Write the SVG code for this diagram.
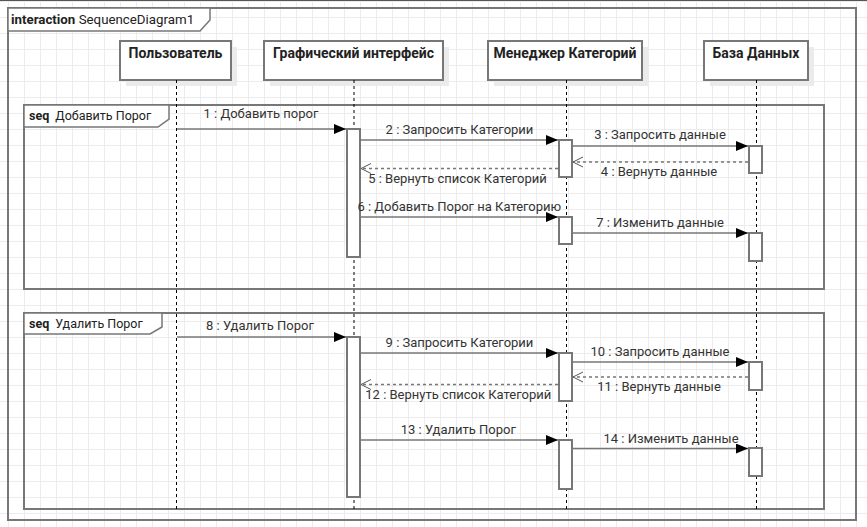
<svg xmlns="http://www.w3.org/2000/svg" width="867" height="527" viewBox="0 0 867 527">
<defs>
<pattern id="grid" x="8" y="1" width="16" height="16" patternUnits="userSpaceOnUse">
<path d="M0 0.5 H16 M0.5 0 V16" fill="none" stroke="#ececec" stroke-width="1"/>
</pattern>
<marker id="filled" markerWidth="12" markerHeight="10" refX="12" refY="5" orient="auto" markerUnits="userSpaceOnUse">
<path d="M0 0 L12 5 L0 10 Z" fill="#000"/>
</marker>
<marker id="open" markerWidth="12" markerHeight="12" refX="11" refY="6" orient="auto" markerUnits="userSpaceOnUse">
<path d="M1 1 L11 6 L1 11" fill="none" stroke="#555" stroke-width="1"/>
</marker>
</defs>
<style>
.frame{fill:none;stroke:#777;stroke-width:2}
.tab{fill:#fff;stroke:#777;stroke-width:1.5}
.head{fill:#fff;stroke:#777;stroke-width:2}
.shadow{fill:#ebebeb}
.life{stroke:#000;stroke-width:1;stroke-dasharray:3,3}
.act{fill:#fff;stroke:#777;stroke-width:2}
.msg{stroke:#777;stroke-width:1.5;fill:none}
.ret{stroke:#777;stroke-width:1.5;stroke-dasharray:3,3;fill:none}
text{font-family:Roboto,"Liberation Sans",sans-serif}
.lbl{font-size:13px;fill:#333;text-anchor:middle}
.hd{font-size:14px;font-weight:bold;fill:#222;text-anchor:middle}
.ft{fill:#222}
.b{font-weight:bold}
</style>
<rect width="867" height="527" fill="#fff"/>
<rect width="867" height="527" fill="url(#grid)"/>
<line x1="0" y1="0.5" x2="867" y2="0.5" stroke="#555" stroke-width="1"/>

<g id="frame-main">
<rect class="frame" x="8" y="8" width="848" height="512"/>
<path class="tab" d="M8 8 H210 V20 L200 31 H8 Z"/>
<text class="ft" x="11" y="24" font-size="13.3px"><tspan class="b">interaction</tspan> SequenceDiagram1</text>
</g>

<g id="seq1">
<rect class="frame" x="24" y="105" width="800" height="184"/>
<path class="tab" d="M24 105 H169 V119 L158 127 H24 Z"/>
<text class="ft" x="29" y="120" font-size="12.5px"><tspan class="b">seq</tspan><tspan dx="6">Добавить Порог</tspan></text>
</g>
<g id="seq2">
<rect class="frame" x="24" y="313" width="800" height="196"/>
<path class="tab" d="M24 313 H162 V327 L150 334 H24 Z"/>
<text class="ft" x="29" y="328" font-size="12.5px"><tspan class="b">seq</tspan><tspan dx="6">Удалить Порог</tspan></text>
</g>

<g id="lifeline-user">
<rect class="shadow" x="126" y="47" width="111" height="39"/>
<rect class="head" x="120" y="41" width="111" height="39"/>
<text class="hd" x="175.5" y="58">Пользователь</text>
<line class="life" x1="176.5" y1="80" x2="176.5" y2="510"/>
</g>
<g id="lifeline-gui">
<rect class="shadow" x="270" y="47" width="179" height="39"/>
<rect class="head" x="264" y="41" width="179" height="39"/>
<text class="hd" x="353.5" y="58">Графический интерфейс</text>
<line class="life" x1="354" y1="80" x2="354" y2="510"/>
</g>
<g id="lifeline-manager">
<rect class="shadow" x="494" y="47" width="154" height="39"/>
<rect class="head" x="488" y="41" width="154" height="39"/>
<text class="hd" x="565" y="58">Менеджер Категорий</text>
<line class="life" x1="566.5" y1="80" x2="566.5" y2="510"/>
</g>
<g id="lifeline-db">
<rect class="shadow" x="710" y="47" width="104" height="39"/>
<rect class="head" x="704" y="41" width="104" height="39"/>
<text class="hd" x="756" y="58">База Данных</text>
<line class="life" x1="756.5" y1="80" x2="756.5" y2="510"/>
</g>

<g id="activations">
<rect class="act" x="347" y="129" width="13" height="128"/>
<rect class="act" x="559" y="140" width="13" height="37"/>
<rect class="act" x="749" y="146" width="13" height="27"/>
<rect class="act" x="559" y="217" width="13" height="27"/>
<rect class="act" x="749" y="233" width="13" height="28"/>
<rect class="act" x="347" y="337" width="13" height="160"/>
<rect class="act" x="559" y="353" width="13" height="48"/>
<rect class="act" x="749" y="362" width="13" height="28"/>
<rect class="act" x="559" y="440" width="13" height="49"/>
<rect class="act" x="749" y="448" width="13" height="28"/>
</g>

<g id="connectors">
<line class="msg" x1="177" y1="129" x2="346" y2="129" marker-end="url(#filled)"/>
<line class="msg" x1="361" y1="140" x2="558" y2="140" marker-end="url(#filled)"/>
<line class="msg" x1="573" y1="146" x2="748" y2="146" marker-end="url(#filled)"/>
<line class="ret" x1="748" y1="162" x2="573" y2="162" marker-end="url(#open)"/>
<line class="ret" x1="558" y1="168.5" x2="361" y2="168.5" marker-end="url(#open)"/>
<line class="msg" x1="361" y1="217" x2="558" y2="217" marker-end="url(#filled)"/>
<line class="msg" x1="573" y1="233" x2="748" y2="233" marker-end="url(#filled)"/>
<line class="msg" x1="177" y1="337" x2="346" y2="337" marker-end="url(#filled)"/>
<line class="msg" x1="361" y1="353" x2="558" y2="353" marker-end="url(#filled)"/>
<line class="msg" x1="573" y1="362" x2="748" y2="362" marker-end="url(#filled)"/>
<line class="ret" x1="748" y1="377" x2="573" y2="377" marker-end="url(#open)"/>
<line class="ret" x1="558" y1="384.5" x2="361" y2="384.5" marker-end="url(#open)"/>
<line class="msg" x1="361" y1="440" x2="558" y2="440" marker-end="url(#filled)"/>
<line class="msg" x1="573" y1="448.5" x2="748" y2="448.5" marker-end="url(#filled)"/>

<text class="lbl" x="261" y="118">1 : Добавить порог</text>
<text class="lbl" x="459.5" y="134">2 : Запросить Категории</text>
<text class="lbl" x="660" y="139">3 : Запросить данные</text>
<text class="lbl" x="659" y="175.5">4 : Вернуть данные</text>
<text class="lbl" x="457.5" y="183">5 : Вернуть список Категорий</text>
<text class="lbl" x="459.3" y="211">6 : Добавить Порог на Категорию</text>
<text class="lbl" x="660" y="227">7 : Изменить данные</text>
<text class="lbl" x="260" y="330">8 : Удалить Порог</text>
<text class="lbl" x="459.5" y="347">9 : Запросить Категории</text>
<text class="lbl" x="660" y="356">10 : Запросить данные</text>
<text class="lbl" x="659" y="391">11 : Вернуть данные</text>
<text class="lbl" x="458.3" y="398.5">12 : Вернуть список Категорий</text>
<text class="lbl" x="458.3" y="434">13 : Удалить Порог</text>
<text class="lbl" x="671" y="442.5">14 : Изменить данные</text>
</g>
</svg>
